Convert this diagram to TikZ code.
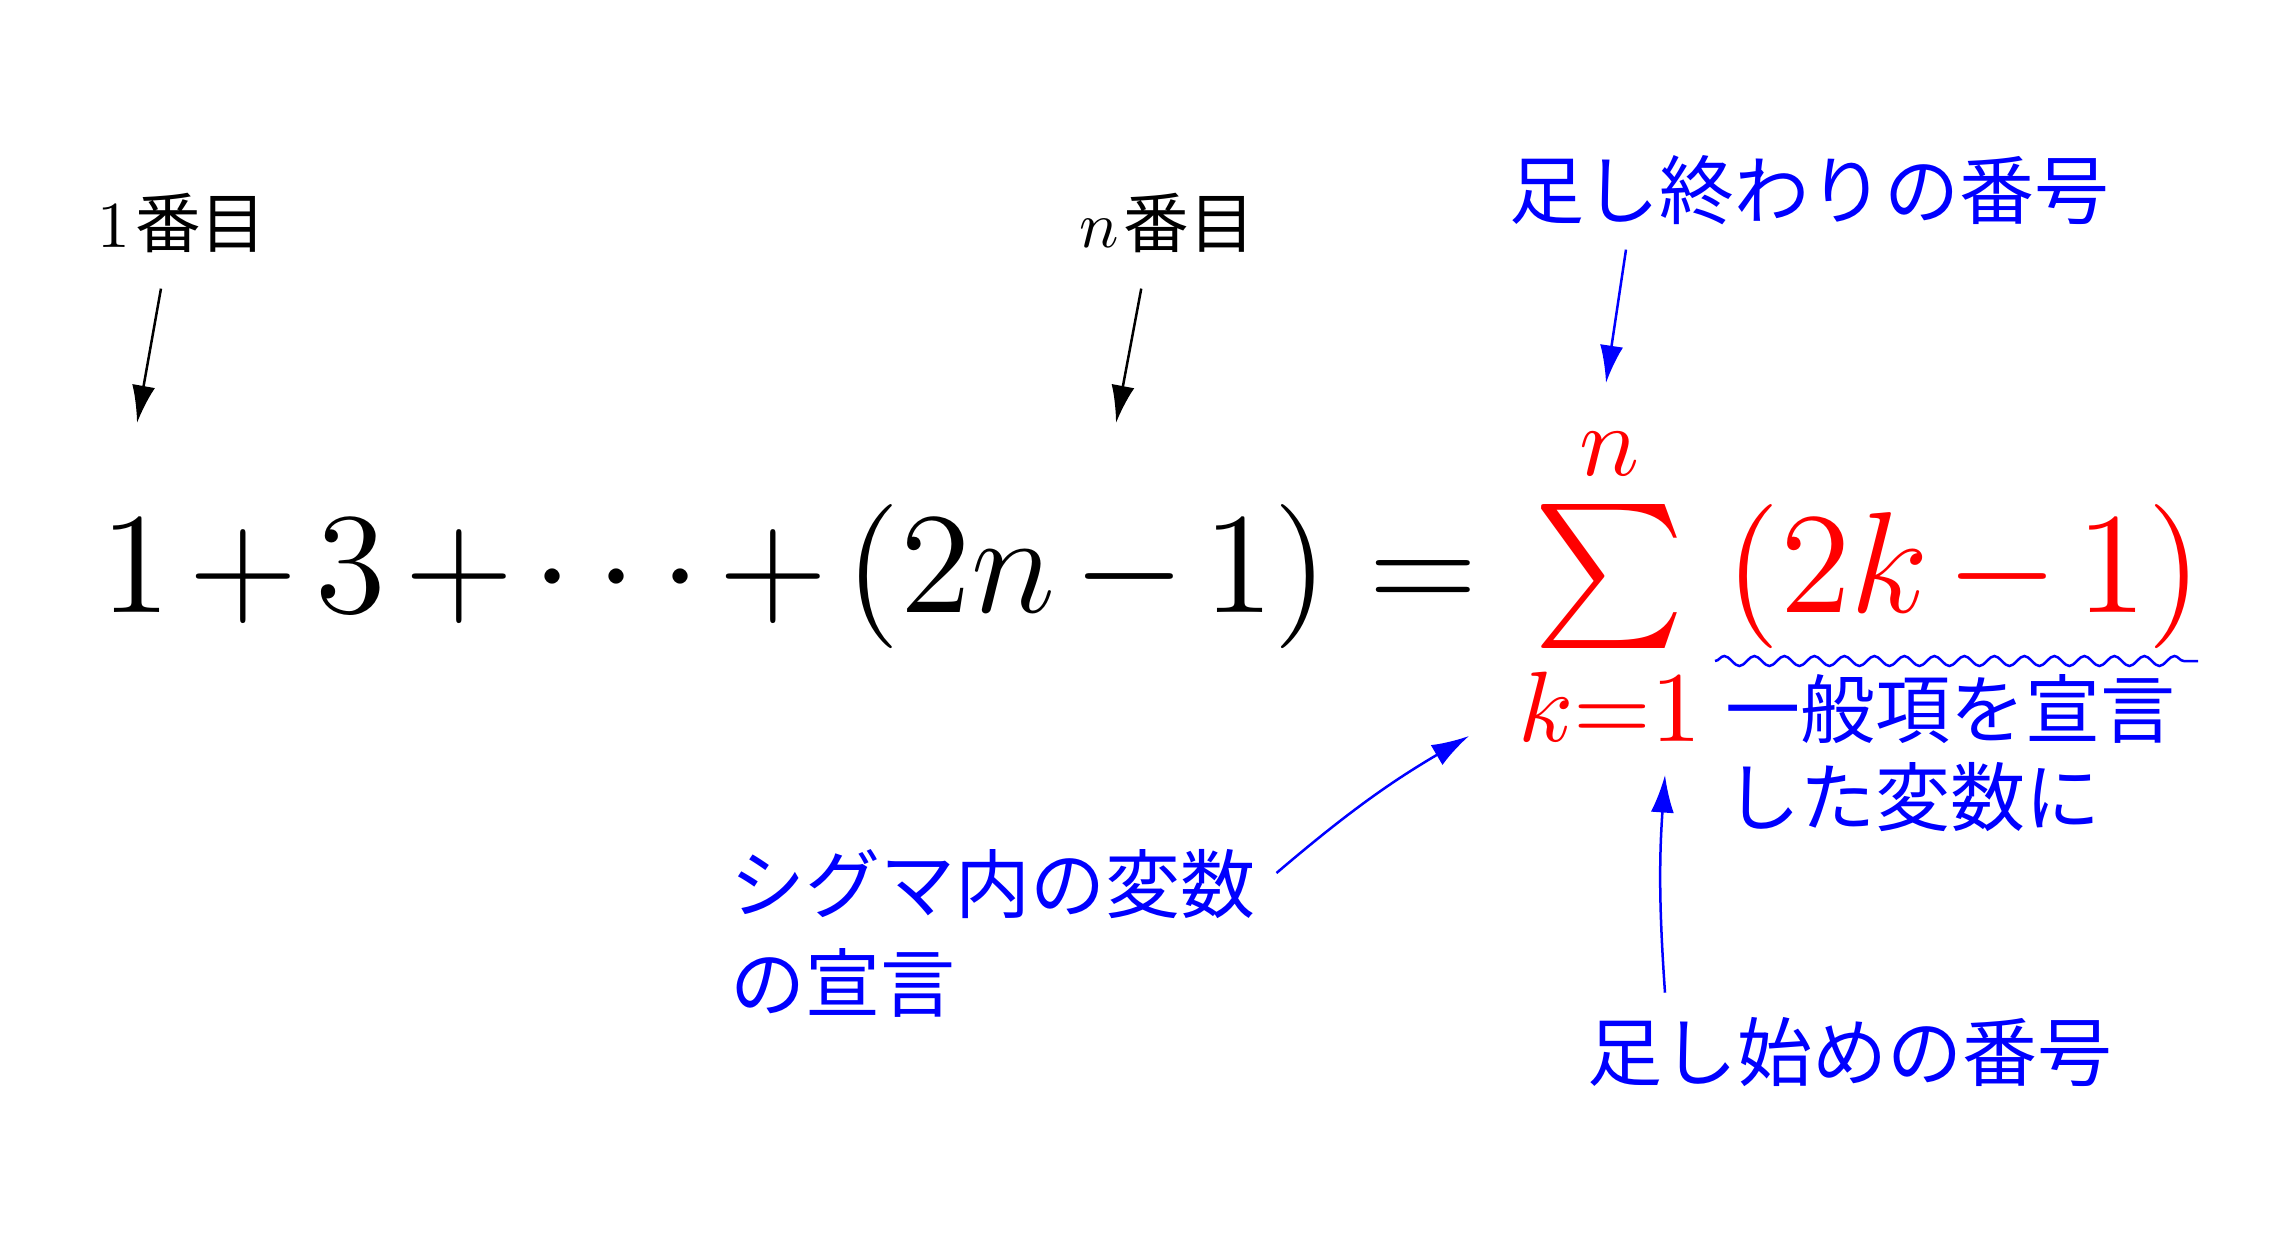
\documentclass[tikz,border=0pt]{standalone}
\usepackage{exscale}
\usepackage{fontspec}
\newfontfamily\jpfont{Noto Sans CJK JP}
\usetikzlibrary{positioning, arrows.meta, decorations.pathmorphing}

\begin{document}
\begin{tikzpicture}[x=0.16pt, y=0.16pt,
  tag/.style={inner sep=0pt, anchor=base west},
  note/.style={tag, font=\large\jpfont, text=blue, align=left},
  pointer/.style={-{Latex[length=6pt, width=3.7pt]}, thin}]
  \useasboundingbox (0,0) rectangle (2293,1236);

  \node[tag, scale=1.6, font=\Large] (formula) at (98,624)
  {$\medmuskip=2.25mu 1+3+\cdots+(2n-1)=\color{red}\sum\limits_{k=1}^{n}\left(2k-1\right)$};

  \node[tag, scale=1.05] (first) at (96,989)   {$1$\kern0.8pt\jpfont 番目};
  \node[tag, scale=1.05] (nth)   at (1078,989) {$n$\kern0.8pt\jpfont 番目};
  \node[note] (upper)   at (1508,1018) {足し終わりの番号};
  \node[note] (general) at (1724,411)  {一般項を宣言\\した変数に};
  \node[note] (var)     at (729,225)   {シグマ内の変数\\[1.7pt]の宣言};
  \node[note] (lower)   at (1586,156)  {足し始めの番号};

  \coordinate (first tip) at (137,813);
  \coordinate (nth tip)   at (1116,813);
  \coordinate (upper tip) at (1606,853);
  \coordinate (var tip)   at (1469,500);
  \coordinate (lower tip) at (1665,461);

  \draw[pointer] ([shift={(-21,-35)}]first.south) -- (first tip);
  \draw[pointer] ([shift={(-26,-35)}]nth.south)   -- (nth tip);
  \draw[pointer, blue] ([shift={(118,-24)}]upper.south west) -- (upper tip);
  \draw[pointer, blue] ([shift={(20,138)}]var.base east) to[bend left=5] (var tip);
  \draw[pointer, blue] ([shift={(79,23)}]lower.north west) to[bend left=4] (lower tip);

  \draw[blue, decorate, decoration={snake, amplitude=0.8pt, segment length=4.8pt}]
  (1715,575) -- (2198,575);
\end{tikzpicture}
\end{document}
